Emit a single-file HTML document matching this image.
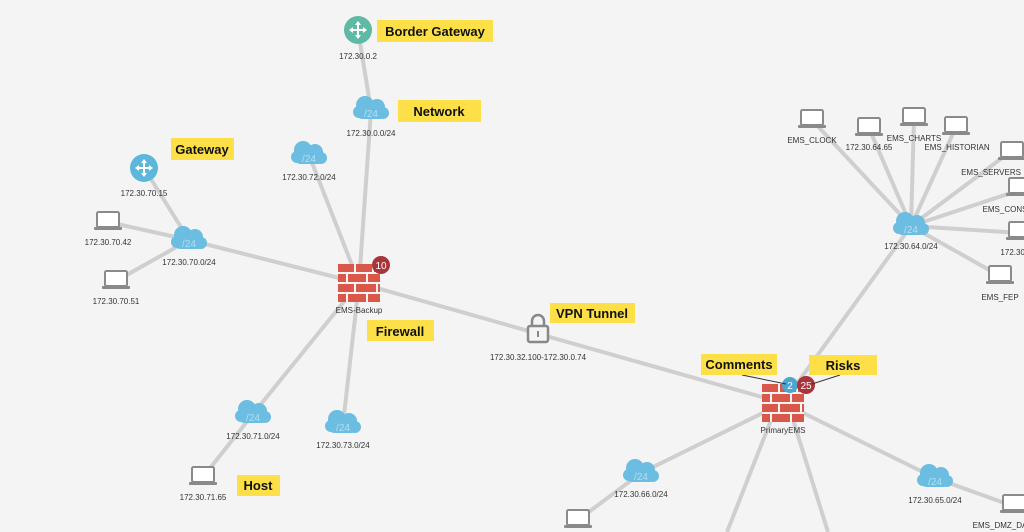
<!DOCTYPE html>
<html><head><meta charset="utf-8"><style>
html,body{margin:0;padding:0;background:#f4f4f4;}
svg{display:block;}
.l{font-family:"Liberation Sans",sans-serif;font-size:8px;fill:#333;text-anchor:middle;}
.y{font-family:"Liberation Sans",sans-serif;font-size:13px;font-weight:bold;fill:#111;text-anchor:middle;}
.c{font-family:"Liberation Sans",sans-serif;font-size:10px;fill:#fff;text-anchor:middle;}
</style></head><body>
<svg width="1024" height="532" viewBox="0 0 1024 532" xmlns="http://www.w3.org/2000/svg">
<defs>
<g id="cloud"><g fill="#6bbde2"><circle cx="-6" cy="-3" r="9"/><circle cx="6" cy="-1" r="8"/><circle cx="-12" cy="4" r="6"/><circle cx="12" cy="5" r="6"/><rect x="-14" y="0" width="28" height="11" rx="5"/></g></g>
<g id="lap"><rect x="-11" y="-10" width="22" height="15" rx="1.5" fill="#fff" stroke="#8a8a8a" stroke-width="2"/><rect x="-14" y="5" width="28" height="3" rx="1" fill="#8a8a8a"/></g>
<g id="fw"><rect x="-21" y="-19" width="42" height="38" fill="#f4f4f4"/><g fill="#d9584a"><rect x="-21" y="-19" width="16" height="8"/><rect x="-3" y="-19" width="16" height="8"/><rect x="15" y="-19" width="6" height="8"/><rect x="-21" y="-9" width="8" height="8"/><rect x="-11" y="-9" width="18" height="8"/><rect x="9" y="-9" width="12" height="8"/><rect x="-21" y="1" width="16" height="8"/><rect x="-3" y="1" width="20" height="8"/><rect x="19" y="1" width="2" height="8"/><rect x="-21" y="11" width="8" height="8"/><rect x="-11" y="11" width="18" height="8"/><rect x="9" y="11" width="12" height="8"/></g></g>
<g id="arr" fill="#fff"><path d="M0,-9 l-3,4 h6z M0,9 l-3,-4 h6z M-9,0 l4,-3 v6z M9,0 l-4,-3 v6z"/><rect x="-1" y="-5" width="2" height="10"/><rect x="-5" y="-1" width="10" height="2"/></g>
</defs>
<g stroke="#cfcfcf" stroke-width="4" fill="none">
<line x1="358" y1="30" x2="371" y2="110"/>
<line x1="371" y1="110" x2="359" y2="283"/>
<line x1="309" y1="155" x2="359" y2="283"/>
<line x1="144" y1="168" x2="189" y2="240"/>
<line x1="108" y1="222" x2="189" y2="240"/>
<line x1="116" y1="281" x2="189" y2="240"/>
<line x1="189" y1="240" x2="359" y2="283"/>
<line x1="359" y1="283" x2="783" y2="403"/>
<line x1="359" y1="283" x2="253" y2="414"/>
<line x1="359" y1="283" x2="343" y2="424"/>
<line x1="253" y1="414" x2="203" y2="477"/>
<line x1="783" y1="403" x2="911" y2="226"/>
<line x1="783" y1="403" x2="641" y2="473"/>
<line x1="641" y1="473" x2="578" y2="520"/>
<line x1="783" y1="403" x2="935" y2="478"/>
<line x1="935" y1="478" x2="1010" y2="505"/>
<line x1="775" y1="410" x2="727" y2="532"/>
<line x1="790" y1="410" x2="828" y2="532"/>
<line x1="911" y1="226" x2="812" y2="120"/>
<line x1="911" y1="226" x2="869" y2="128"/>
<line x1="911" y1="226" x2="914" y2="118"/>
<line x1="911" y1="226" x2="956" y2="127"/>
<line x1="911" y1="226" x2="1010" y2="152"/>
<line x1="911" y1="226" x2="1020" y2="190"/>
<line x1="911" y1="226" x2="1020" y2="233"/>
<line x1="911" y1="226" x2="1000" y2="276"/>
</g>
<circle cx="358" cy="30" r="14" fill="#5fb9a5"/><use href="#arr" x="358" y="30"/>
<circle cx="144" cy="168" r="14" fill="#5cb7db"/><use href="#arr" x="144" y="168"/>
<g>
<use href="#cloud" x="371" y="108"/><text class="c" x="371" y="117" opacity=".5">/24</text>
<use href="#cloud" x="309" y="153"/><text class="c" x="309" y="162" opacity=".5">/24</text>
<use href="#cloud" x="189" y="238"/><text class="c" x="189" y="247" opacity=".5">/24</text>
<use href="#cloud" x="253" y="412"/><text class="c" x="253" y="421" opacity=".5">/24</text>
<use href="#cloud" x="343" y="422"/><text class="c" x="343" y="431" opacity=".5">/24</text>
<use href="#cloud" x="641" y="471"/><text class="c" x="641" y="480" opacity=".5">/24</text>
<use href="#cloud" x="935" y="476"/><text class="c" x="935" y="485" opacity=".5">/24</text>
<use href="#cloud" x="911" y="224"/><text class="c" x="911" y="233" opacity=".5">/24</text>
</g>
<use href="#lap" x="108" y="222"/><use href="#lap" x="116" y="281"/><use href="#lap" x="203" y="477"/>
<use href="#lap" x="578" y="520"/><use href="#lap" x="1014" y="505"/>
<use href="#lap" x="812" y="120"/><use href="#lap" x="869" y="128"/><use href="#lap" x="914" y="118"/><use href="#lap" x="956" y="127"/>
<use href="#lap" x="1012" y="152"/><use href="#lap" x="1020" y="188"/><use href="#lap" x="1020" y="232"/><use href="#lap" x="1000" y="276"/>
<use href="#fw" x="359" y="283"/><use href="#fw" x="783" y="403"/>
<circle cx="381" cy="265" r="9" fill="#a8353a"/><text class="c" x="381" y="269">10</text>
<circle cx="790" cy="385" r="8" fill="#4da6cf"/><text class="c" x="790" y="389">2</text>
<circle cx="806" cy="385" r="9" fill="#a8353a"/><text class="c" x="806" y="389">25</text>
<rect x="528" y="326" width="20" height="16" rx="2" fill="#f4f4f4" stroke="#888" stroke-width="2.5"/>
<path d="M532,326 v-5 a6,6 0 0 1 12,0 v5" fill="none" stroke="#888" stroke-width="2.5"/>
<rect x="537" y="331" width="2" height="6" fill="#888"/>
<g class="l">
<text x="358" y="59">172.30.0.2</text>
<text x="371" y="136">172.30.0.0/24</text>
<text x="309" y="180">172.30.72.0/24</text>
<text x="144" y="196">172.30.70.15</text>
<text x="108" y="245">172.30.70.42</text>
<text x="189" y="265">172.30.70.0/24</text>
<text x="116" y="304">172.30.70.51</text>
<text x="359" y="313">EMS-Backup</text>
<text x="538" y="360">172.30.32.100-172.30.0.74</text>
<text x="783" y="433">PrimaryEMS</text>
<text x="253" y="439">172.30.71.0/24</text>
<text x="343" y="448">172.30.73.0/24</text>
<text x="203" y="500">172.30.71.65</text>
<text x="641" y="497">172.30.66.0/24</text>
<text x="935" y="503">172.30.65.0/24</text>
<text x="1000" y="528">EMS_DMZ_DA</text>
<text x="911" y="249">172.30.64.0/24</text>
<text x="812" y="143">EMS_CLOCK</text>
<text x="869" y="150">172.30.64.65</text>
<text x="914" y="141">EMS_CHARTS</text>
<text x="957" y="150">EMS_HISTORIAN</text>
<text x="991" y="175">EMS_SERVERS</text>
<text x="1005" y="212">EMS_CONS</text>
<text x="1016" y="255">172.30.6</text>
<text x="1000" y="300">EMS_FEP</text>
</g>
<line x1="742" y1="375" x2="786" y2="384" stroke="#333" stroke-width="1"/>
<line x1="840" y1="375" x2="812" y2="384" stroke="#333" stroke-width="1"/>
<g fill="#fde047">
<rect x="377" y="20" width="116" height="22"/><rect x="398" y="100" width="83" height="22"/>
<rect x="171" y="138" width="63" height="22"/><rect x="367" y="320" width="67" height="21"/>
<rect x="550" y="303" width="85" height="20"/><rect x="701" y="354" width="76" height="21"/>
<rect x="809" y="355" width="68" height="20"/><rect x="237" y="475" width="43" height="21"/>
</g>
<g class="y">
<text x="435" y="36">Border Gateway</text><text x="439" y="116">Network</text>
<text x="202" y="154">Gateway</text><text x="400" y="336">Firewall</text>
<text x="592" y="318">VPN Tunnel</text><text x="739" y="369">Comments</text>
<text x="843" y="370">Risks</text><text x="258" y="490">Host</text>
</g>
</svg>
</body></html>
